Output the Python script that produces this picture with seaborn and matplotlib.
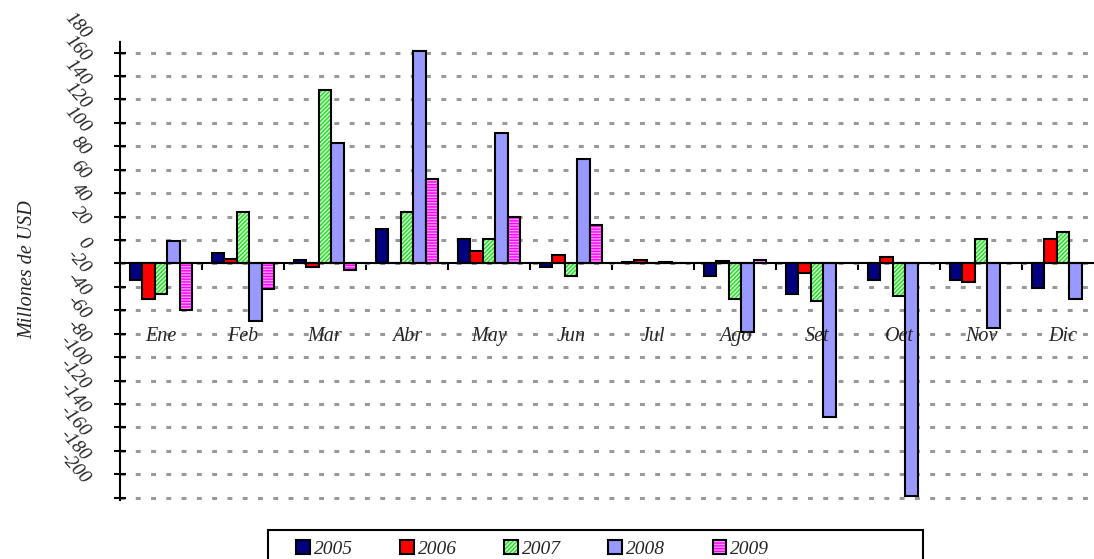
import numpy as np
import pandas as pd
import matplotlib
matplotlib.use('Agg')
import matplotlib.pyplot as plt
import matplotlib.patches as mpatches
import matplotlib.colors as mcolors
from matplotlib.transforms import offset_copy
import seaborn as sns

# datos (millones de USD)
meses = ['Ene', 'Feb', 'Mar', 'Abr', 'May', 'Jun', 'Jul', 'Ago', 'Set', 'Oct', 'Nov', 'Dic']
anios = ['2005', '2006', '2007', '2008', '2009']
v2005 = [-14.5, 9, 3, 29, 21, -3, 1.5, -11, -26.5, -14.5, -14.5, -21]
v2006 = [-30, 3.5, -3, 0, 11, 7, 3, 2, -8, 5.5, -16, 20.5]
v2007 = [-26, 44, 148, 44, 20.5, -10.5, 0, -30, -32, -28, 20.5, 27]
v2008 = [19, -49, 103, 181, 111, 89.5, 1.5, -59, -131, -199, -55, -30]
v2009 = [-40, -22, -6, 72, 40, 33, 0, 3, np.nan, np.nan, np.nan, np.nan]
yticks = list(range(-200, 181, 20))

colores = ['#000080', '#FF0000', '#CCFFCC', '#9999FF', '#FF99FF']
hatches = [None, None, '////////', None, '------']
hatch_colores = [None, None, '#22DD22', None, '#FF00FF']

df = pd.DataFrame({'mes': meses * 5,
                   'anio': np.repeat(anios, 12),
                   'valor': v2005 + v2006 + v2007 + v2008 + v2009})

sns.set_style('white')
plt.rcParams['font.family'] = ['Liberation Serif', 'DejaVu Serif']
plt.rcParams['hatch.linewidth'] = 1.0


def set_hatch(p, h, hc):
    p.set_hatch(h)
    if hasattr(p, 'set_hatchcolor'):
        p.set_hatchcolor(hc)
    else:
        p._hatch_color = mcolors.to_rgba(hc)


fig = plt.figure(figsize=(10.94, 5.59), dpi=100)
ax = fig.add_axes([120 / 1094, 59 / 559, 984 / 1094, 458 / 559])

sns.barplot(data=df, x='mes', y='valor', hue='anio', order=meses, hue_order=anios,
            palette=colores, saturation=1, width=0.76, edgecolor='black',
            linewidth=1.5, errorbar=None, legend=False, ax=ax)

for cont, h, hc in zip(ax.containers, hatches, hatch_colores):
    if h:
        for p in cont.patches:
            set_hatch(p, h, hc)

ax.set_xlim(-0.5, 11.5)
ax.set_ylim(-202, 189)
ax.set_xlabel('')
ax.set_ylabel('')

# rejilla
ax.set_yticks(yticks)
ax.set_yticklabels([])
ax.yaxis.grid(True, color='#999999', linewidth=2.2, linestyle=(0, (1.6, 3.4)))
ax.set_axisbelow(True)
ax.tick_params(axis='y', direction='inout', length=8, width=1.5, color='black', left=True)

# eje x en cero
for s in ['top', 'right']:
    ax.spines[s].set_visible(False)
ax.spines['bottom'].set_position(('data', 0))
ax.spines['bottom'].set_linewidth(1.5)
ax.spines['left'].set_linewidth(1.5)
ax.spines['bottom'].set_color('black')
ax.spines['left'].set_color('black')
ax.set_xticks(np.arange(0.5, 11.5, 1))
ax.set_xticklabels([])
ax.tick_params(axis='x', direction='out', length=5, width=1.5, color='black', bottom=True)

for i, m in enumerate(meses):
    ax.text(i, -62, m, ha='center', va='center', fontsize=14.5, style='italic')

# etiquetas del eje y giradas
trans = offset_copy(ax.get_yaxis_transform(), fig=fig, x=-33, y=16, units='dots')
for v in yticks:
    ax.text(0, v, str(v), transform=trans, rotation=-48, rotation_mode='anchor',
            ha='right', va='center', fontsize=14, style='italic', clip_on=False)

fig.text(28 / 1094, 1 - 270 / 559, 'Millones de USD', rotation=90, ha='center',
         va='center', fontsize=14.5, style='italic')

# leyenda
handles = []
for c, h, hc in zip(colores, hatches, hatch_colores):
    p = mpatches.Patch(facecolor=c, edgecolor='black', linewidth=1.5)
    if h:
        set_hatch(p, h, hc)
    handles.append(p)
fig.legend(handles, anios, loc='center left', bbox_to_anchor=(296 / 1094, 1 - 549 / 559),
           ncol=5, frameon=False, prop={'style': 'italic', 'size': 14},
           handlelength=0.7, handleheight=0.7, handletextpad=0.2, columnspacing=2.45,
           borderpad=0, borderaxespad=0)
fig.patches.append(mpatches.Rectangle((268 / 1094, -0.05), 655 / 1094, 0.05 + 29 / 559,
                                      transform=fig.transFigure, fill=False,
                                      edgecolor='black', linewidth=1.5))

fig.savefig('out.png', dpi=100)
